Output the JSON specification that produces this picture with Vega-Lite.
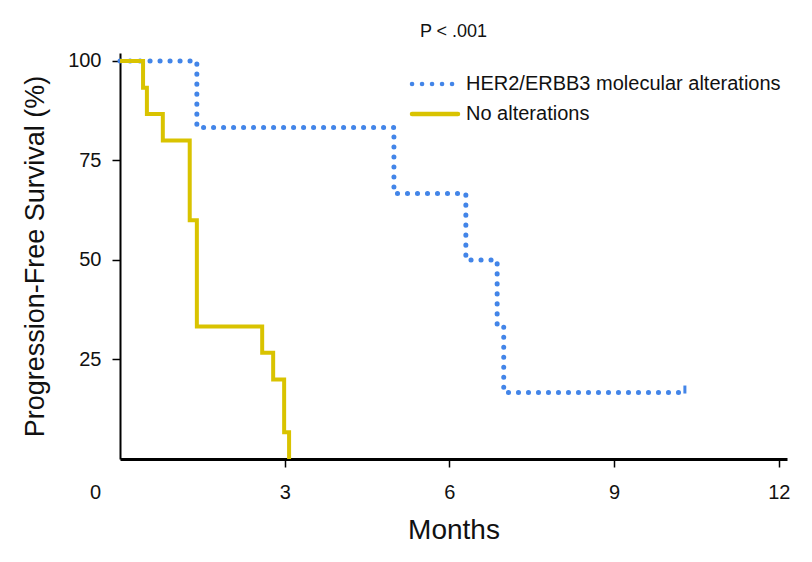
{
  "$schema": "https://vega.github.io/schema/vega-lite/v6.json",
  "width": 667,
  "height": 406,
  "autosize": {"type": "none"},
  "padding": {"left": 120, "top": 53, "right": 25, "bottom": 103},
  "background": "white",
  "title": {"text": "P < .001", "fontSize": 18, "font": "Liberation Sans", "fontWeight": "normal", "color": "#111111", "anchor": "middle", "offset": 10},
  "datasets": {
    "km": [
      {"group": "HER2/ERBB3 molecular alterations", "months": 0, "pfs": 100},
      {"group": "HER2/ERBB3 molecular alterations", "months": 1.40, "pfs": 83.3},
      {"group": "HER2/ERBB3 molecular alterations", "months": 4.99, "pfs": 66.7},
      {"group": "HER2/ERBB3 molecular alterations", "months": 6.30, "pfs": 50},
      {"group": "HER2/ERBB3 molecular alterations", "months": 6.87, "pfs": 33.3},
      {"group": "HER2/ERBB3 molecular alterations", "months": 6.99, "pfs": 16.7},
      {"group": "HER2/ERBB3 molecular alterations", "months": 10.29, "pfs": 16.7},
      {"group": "No alterations", "months": 0, "pfs": 100},
      {"group": "No alterations", "months": 0.42, "pfs": 93.3},
      {"group": "No alterations", "months": 0.49, "pfs": 86.7},
      {"group": "No alterations", "months": 0.78, "pfs": 80},
      {"group": "No alterations", "months": 1.27, "pfs": 60},
      {"group": "No alterations", "months": 1.40, "pfs": 33.3},
      {"group": "No alterations", "months": 2.59, "pfs": 26.7},
      {"group": "No alterations", "months": 2.79, "pfs": 20},
      {"group": "No alterations", "months": 2.99, "pfs": 6.7},
      {"group": "No alterations", "months": 3.08, "pfs": 0}
    ],
    "censor": [
      {"group": "HER2/ERBB3 molecular alterations", "months": 10.29, "pfs": 16.7}
    ]
  },
  "encoding": {
    "x": {
      "field": "months", "type": "quantitative",
      "scale": {"domain": [0, 12.15], "nice": false, "zero": false},
      "axis": {
        "values": [0, 3, 6, 9, 12],
        "title": "Months",
        "titleFontSize": 28,
        "titlePadding": 14,
        "labelPadding": 15,
        "labelFlush": false,
        "labelOffset": {"condition": {"test": "datum.value === 0", "value": -25}, "value": 0},
        "tickOpacity": {"condition": {"test": "datum.value === 0", "value": 0}, "value": 1},
        "domainWidth": 3
      }
    },
    "y": {
      "field": "pfs", "type": "quantitative",
      "scale": {"domain": [0, 102], "nice": false},
      "axis": {
        "values": [25, 50, 75, 100],
        "title": "Progression-Free Survival (%)",
        "titleFontSize": 27,
        "titlePadding": 18,
        "labelPadding": 11,
        "domainWidth": 2
      }
    },
    "color": {
      "field": "group", "type": "nominal",
      "scale": {"domain": ["HER2/ERBB3 molecular alterations", "No alterations"], "range": ["#4385E8", "#D9C300"]},
      "legend": {
        "orient": "none", "legendX": 301, "legendY": 17, "title": null,
        "labelFontSize": 20, "labelFont": "Liberation Sans", "labelColor": "#111111", "labelLimit": 500,
        "symbolType": "M-2,0H2", "symbolSize": 529, "symbolStrokeWidth": 4.5, "symbolFillColor": "transparent",
        "labelOffset": 17, "rowPadding": 6,
        "encode": {"symbols": {"update": {"strokeCap": {"value": "round"}}}}
      }
    },
    "strokeDash": {
      "field": "group", "type": "nominal",
      "scale": {"domain": ["HER2/ERBB3 molecular alterations", "No alterations"], "range": [[0.1, 9.9], [1, 0]]},
      "legend": null
    }
  },
  "layer": [
    {
      "data": {"name": "km"},
      "transform": [{"filter": "datum.group === 'HER2/ERBB3 molecular alterations'"}],
      "mark": {"type": "line", "interpolate": "step-after", "strokeWidth": 5, "strokeCap": "round"}
    },
    {
      "data": {"name": "km"},
      "transform": [{"filter": "datum.group === 'No alterations'"}],
      "mark": {"type": "line", "interpolate": "step-after", "strokeWidth": 4, "strokeCap": "butt"}
    },
    {
      "data": {"name": "censor"},
      "mark": {"type": "tick", "orient": "vertical", "size": 8, "thickness": 3, "yOffset": -3, "opacity": 1},
      "encoding": {"strokeDash": {"value": [1, 0]}}
    }
  ],
  "config": {
    "view": {"stroke": null},
    "axis": {
      "domainColor": "#000000", "tickColor": "#000000", "tickWidth": 1.5, "tickSize": 8,
      "grid": false,
      "labelFont": "Liberation Sans", "labelFontSize": 20, "labelColor": "#111111",
      "titleFont": "Liberation Sans", "titleFontWeight": "normal", "titleColor": "#111111"
    }
  }
}
